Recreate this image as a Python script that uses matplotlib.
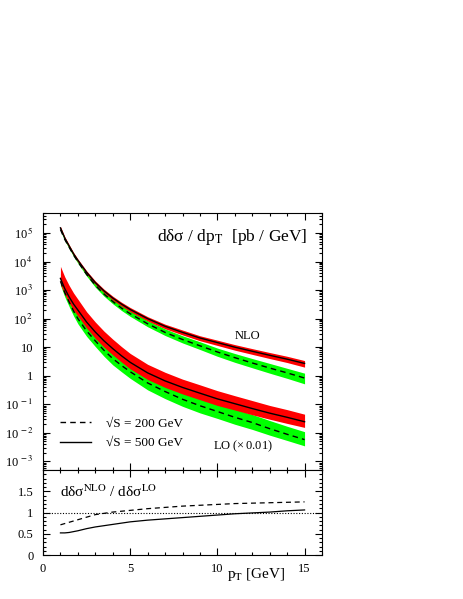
import numpy as np
import matplotlib
import matplotlib.pyplot as plt
from matplotlib.ticker import LogLocator, FuncFormatter, MultipleLocator, NullFormatter

matplotlib.use('Agg')

plt.rcParams['font.family'] = ['Liberation Serif', 'DejaVu Serif']
plt.rcParams['mathtext.fontset'] = 'stix'

# pT grid [GeV]
pt = [1, 1.25, 1.5, 1.75, 2, 2.5, 3, 3.5, 4, 4.5, 5, 6, 7, 8, 9, 10, 11, 12, 13, 14, 15]

# NLO, sqrt(S) = 500 GeV (solid, red band)
nlo500 = [1.51e5, 6.6e4, 3.47e4, 1.86e4, 1.1e4, 4.2e3, 1.82e3, 930, 525, 324, 209,
          100, 54, 33, 21, 14.5, 10, 7.2, 5.2, 3.8, 2.7]
nlo500_hi = [1.70e5, 7.4e4, 3.89e4, 2.09e4, 1.23e4, 4.73e3, 2.09e3, 1.07e3, 610, 376, 245,
             117, 63.8, 39.8, 25.1, 17.6, 12.3, 8.9, 6.5, 4.8, 3.4]
nlo500_lo = [1.32e5, 5.75e4, 3.02e4, 1.62e4, 9.55e3, 3.63e3, 1.57e3, 804, 447, 275, 176,
             83, 44.2, 26.9, 16.8, 11.5, 7.85, 5.6, 4.0, 2.9, 2.0]

# NLO, sqrt(S) = 200 GeV (dashed, green band)
nlo200 = [1.32e5, 5.9e4, 3.16e4, 1.70e4, 9.8e3, 3.55e3, 1.48e3, 724, 398, 234, 148,
          66, 33, 18.6, 11.2, 6.8, 4.3, 2.8, 1.86, 1.26, 0.83]
nlo200_hi = [1.55e5, 6.9e4, 3.72e4, 2.0e4, 1.15e4, 4.22e3, 1.78e3, 881, 490, 292, 186,
             85, 43.7, 25.1, 15.5, 9.3, 6.0, 4.0, 2.7, 1.82, 1.23]
nlo200_lo = [1.2e5, 5.3e4, 2.82e4, 1.51e4, 8.7e3, 3.09e3, 1.26e3, 610, 331, 193, 120,
             52, 25.7, 14.1, 8.3, 4.8, 2.95, 1.9, 1.23, 0.81, 0.52]

# LO (x 0.01), sqrt(S) = 500 GeV
lo500 = [2570, 1120, 575, 324, 200, 76, 33.9, 16.6, 8.9, 5.0, 2.95,
         1.26, 0.66, 0.39, 0.245, 0.155, 0.105, 0.071, 0.049, 0.035, 0.0245]
lo500_hi = [6760, 2880, 1450, 794, 479, 174, 75.9, 36.3, 19.1, 10.5, 6.03,
            2.51, 1.32, 0.76, 0.48, 0.30, 0.20, 0.135, 0.091, 0.065, 0.045]
lo500_lo = [1620, 708, 355, 200, 123, 46.8, 20.4, 10.0, 5.37, 3.02, 1.74,
            0.74, 0.39, 0.23, 0.145, 0.091, 0.063, 0.043, 0.030, 0.0214, 0.0155]

# LO (x 0.01), sqrt(S) = 200 GeV
lo200 = [2040, 813, 380, 186, 100, 37.2, 16.6, 7.76, 3.98, 2.29, 1.38,
         0.56, 0.28, 0.15, 0.089, 0.056, 0.035, 0.023, 0.014, 0.0089, 0.0058]
lo200_hi = [3890, 1550, 724, 355, 191, 70.8, 31.6, 14.8, 7.59, 4.37, 2.63,
            1.07, 0.54, 0.29, 0.17, 0.107, 0.068, 0.044, 0.027, 0.017, 0.011]
lo200_lo = [1480, 575, 263, 126, 66, 24, 10.5, 4.79, 2.40, 1.38, 0.81,
            0.32, 0.158, 0.085, 0.050, 0.032, 0.020, 0.0132, 0.0083, 0.0054, 0.0035]

# ratio NLO / LO
ratio200 = [0.71, 0.74, 0.77, 0.80, 0.83, 0.89, 0.95, 0.98, 1.01, 1.03, 1.05,
            1.09, 1.12, 1.15, 1.17, 1.19, 1.21, 1.22, 1.23, 1.24, 1.25]
ratio500 = [0.52, 0.52, 0.53, 0.55, 0.57, 0.62, 0.66, 0.69, 0.72, 0.75, 0.78,
            0.82, 0.85, 0.88, 0.91, 0.94, 0.97, 0.99, 1.01, 1.04, 1.06]

W, H = 463, 599
fig = plt.figure(figsize=(W / 100, H / 100), dpi=100)
ax = fig.add_axes([43 / W, 1 - 470 / H, 279 / W, 257 / H])
ax2 = fig.add_axes([43 / W, 1 - 555 / H, 279 / W, 85 / H])

# bands
ax.fill_between(pt, nlo200_lo, nlo200_hi, color='#00ff00', lw=0)
ax.fill_between(pt, lo200_lo, lo200_hi, color='#00ff00', lw=0)
ax.fill_between(pt, nlo500_lo, nlo500_hi, color='#ff0000', lw=0)
ax.fill_between(pt, lo500_lo, lo500_hi, color='#ff0000', lw=0)

dash = (0, (4, 3))
ax.plot(pt, nlo200, color='black', lw=1.0, ls=dash)
ax.plot(pt, lo200, color='black', lw=1.0, ls=dash)
ax.plot(pt, nlo500, color='black', lw=1.0)
ax.plot(pt, lo500, color='black', lw=1.0)

ax.set_yscale('log')
ax.set_xlim(0, 16)
ax.set_ylim(5e-4, 5e5)


def logfmt(v, pos):
    e = int(round(np.log10(v)))
    if e == 0:
        return '1'
    if e == 1:
        return '10'
    return r'10$^{\,%d}$' % e


ax.yaxis.set_major_locator(LogLocator(base=10, numticks=20))
ax.yaxis.set_minor_locator(LogLocator(base=10, subs=np.arange(2, 10), numticks=20))
ax.yaxis.set_major_formatter(FuncFormatter(logfmt))
ax.yaxis.set_minor_formatter(NullFormatter())
ax.xaxis.set_major_locator(MultipleLocator(5))
ax.xaxis.set_minor_locator(MultipleLocator(1))
ax.tick_params(axis='x', labelbottom=False)

for a in (ax, ax2):
    a.tick_params(which='both', direction='in', top=True, right=True, labelsize=9, width=0.8)
    a.tick_params(which='major', length=5)
    a.tick_params(which='minor', length=2.5)
    a.tick_params(axis='y', pad=7)
    for s in a.spines.values():
        s.set_linewidth(0.8)

ax.text(0.41, 0.89, 'dδσ / dp$_\\mathrm{T}$  [pb / GeV]', transform=ax.transAxes,
        fontsize=12.5, ha='left', va='baseline')
ax.text(11, 24, 'NLO', fontsize=9, ha='left', va='center')
ax.text(9.75, 1.0e-2 / 3.0, r'LO $\mathregular{(\times\,0.01)}$', fontsize=9, ha='left', va='center')

leg_h = [
    plt.Line2D([], [], color='black', lw=1.0, ls=dash),
    plt.Line2D([], [], color='black', lw=1.0),
]
ax.legend(leg_h, ['√S = 200 GeV', '√S = 500 GeV'], loc='lower left', bbox_to_anchor=(0.043, 0.06),
          frameon=False, fontsize=9.5, handlelength=2.3, handletextpad=1.2, labelspacing=0.55,
          borderaxespad=0)

# ratio panel
ax2.plot(pt, ratio200, color='black', lw=0.9, ls=dash)
ax2.plot(pt, ratio500, color='black', lw=0.9)
ax2.axhline(1.0, color='black', lw=0.8, ls=(0, (1, 1.5)))
ax2.set_xlim(0, 16)
ax2.set_ylim(0, 2)
ax2.xaxis.set_major_locator(MultipleLocator(5))
ax2.xaxis.set_minor_locator(MultipleLocator(1))
ax2.yaxis.set_minor_locator(MultipleLocator(0.1))
ax2.set_yticks([0, 0.5, 1, 1.5])
ax2.set_yticklabels(['0', '0.5', '1', '1.5'])
ax2.tick_params(axis='x', pad=6)
ax2.text(1.0, 1.5, 'dδσ$^\\mathrm{NLO}$ / dδσ$^\\mathrm{LO}$', fontsize=11,
         ha='left', va='center')
ax2.text(0.66, -0.235, r'p$_\mathrm{T}$ [GeV]', transform=ax2.transAxes, fontsize=11,
         ha='left', va='center')

fig.savefig('out.png', dpi=100)
